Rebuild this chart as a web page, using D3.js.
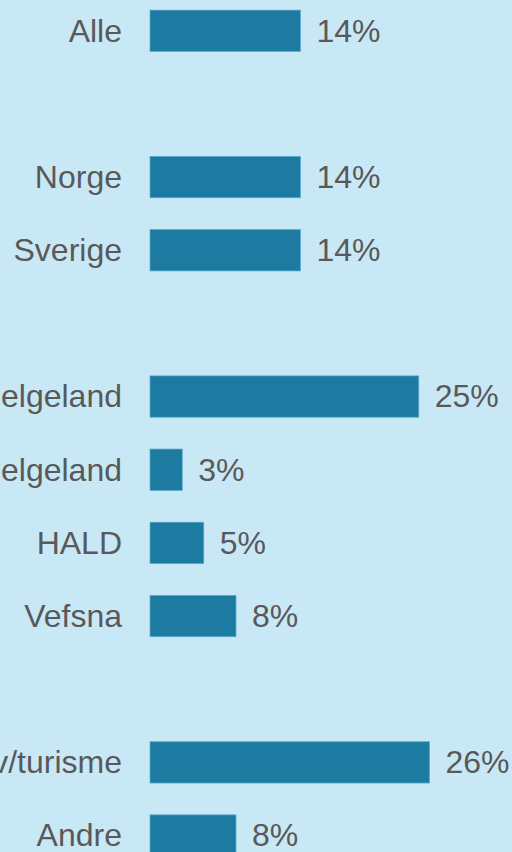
<!DOCTYPE html>
<html>
<head>
<meta charset="utf-8">
<script src="https://cdn.jsdelivr.net/npm/d3@7"></script>
<style>
  html, body { margin: 0; padding: 0; background: #c9e8f6; overflow: hidden; }
  svg { display: block; }
</style>
</head>
<body>
<script>
// DATA ==========================================================
// empty strings are the gaps between groups
var categories = ["Alle", "", "Norge", "Sverige", "", "Sør-Helgeland", "Nord-Helgeland", "HALD", "Vefsna", "", "Reiseliv/turisme", "Andre"];
var values = [14, null, 14, 14, null, 25, 3, 5, 8, null, 26, 8];

// ===============================================================
var width = 512,
    height = 852;

var rows = categories.map((c, i) => ({ id: "r" + i, label: c, value: values[i] }));

var x = d3.scaleLinear()
    .domain([0, 26])
    .range([150, 429.5]);

var y = d3.scaleBand()
    .domain(rows.map(d => d.id))
    .range([10.1, 856.2])
    .paddingInner(0.435)
    .paddingOuter(0);

var svg = d3.select("body").append("svg")
    .attr("width", width)
    .attr("height", height);

var data = rows.filter(d => d.value !== null);

svg.selectAll("rect.bar")
    .data(data)
  .enter().append("rect")
    .attr("class", "bar")
    .attr("x", x(0))
    .attr("y", d => y(d.id))
    .attr("width", d => x(d.value) - x(0))
    .attr("height", y.bandwidth())
    .attr("fill", "#1d7ba2")
    .attr("stroke", "#5aa9cc")
    .attr("stroke-width", 0.75);

var font = "'Liberation Sans', Arial, Helvetica, sans-serif";

// category labels (right aligned, the long ones run off the left edge like in the original)
svg.selectAll("text.cat")
    .data(data)
  .enter().append("text")
    .attr("class", "cat")
    .attr("x", 122)
    .attr("y", d => y(d.id) + y.bandwidth() / 2)
    .attr("dy", "0.34em")
    .attr("text-anchor", "end")
    .attr("font-family", font)
    .attr("font-size", "32px")
    .attr("fill", "#595959")
    .text(d => d.label);

// value labels
svg.selectAll("text.val")
    .data(data)
  .enter().append("text")
    .attr("class", "val")
    .attr("x", d => x(d.value) + 16)
    .attr("y", d => y(d.id) + y.bandwidth() / 2)
    .attr("dy", "0.34em")
    .attr("font-family", font)
    .attr("font-size", "32px")
    .attr("fill", "#595959")
    .text(d => d.value + "%");
</script>
</body>
</html>
